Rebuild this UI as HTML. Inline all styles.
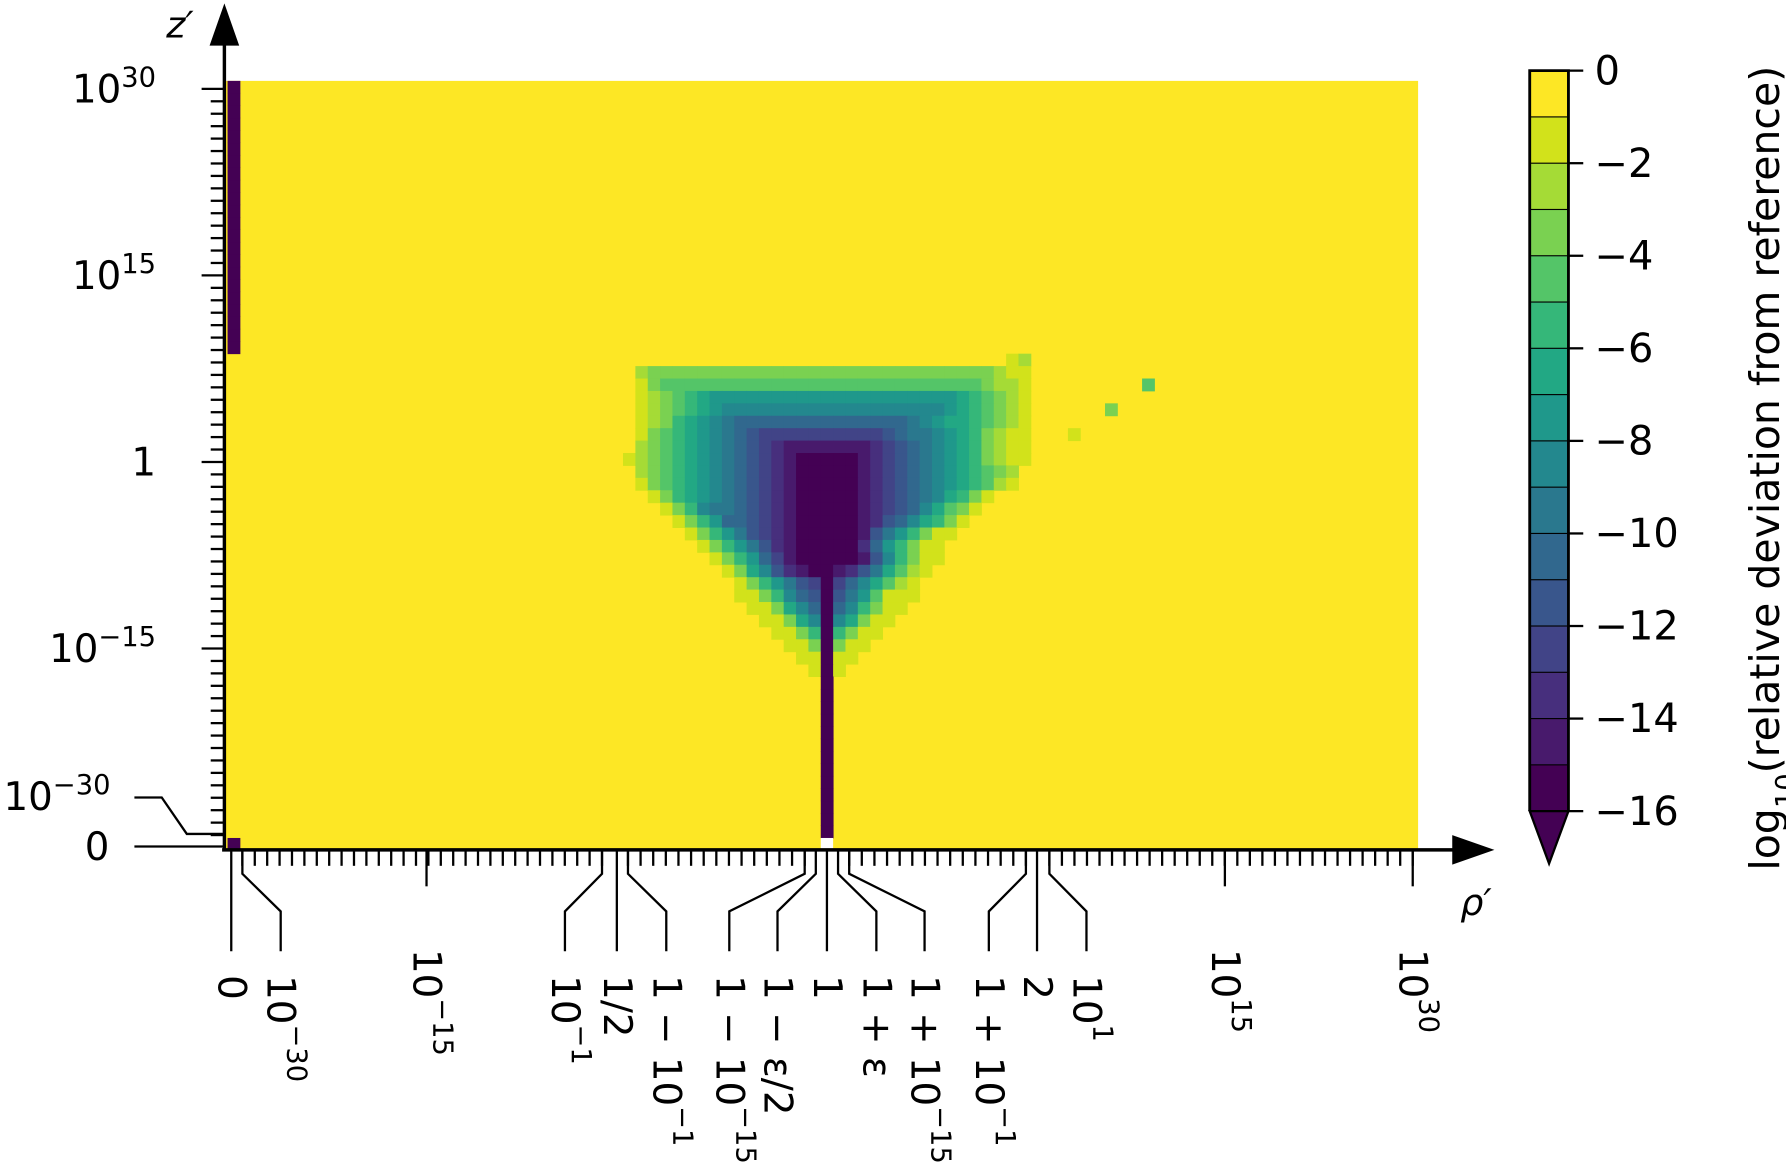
<!DOCTYPE html>
<html><head><meta charset="utf-8"><style>
html,body{margin:0;padding:0;background:#fff;}
svg{display:block;}
text{font-family:"DejaVu Sans","Liberation Sans",sans-serif;fill:#000;}
</style></head><body>
<svg id="chart" width="1786" height="1170" viewBox="0 0 1568 1027" preserveAspectRatio="none" xmlns="http://www.w3.org/2000/svg">
<defs><clipPath id="plotclip"><rect x="197" y="71" width="1048" height="675"/></clipPath></defs>
<rect x="197" y="71" width="1048" height="675" fill="#fde725"/>
<g id="cells" clip-path="url(#plotclip)"></g>
<g id="axes"></g>
<g id="cbar"></g>
</svg>
<script>
// ---- data ----
const levelColors = ["#fde725","#d2e21b","#a5db36","#7ad151","#54c568","#35b779","#22a884","#1f988b","#23888e","#2a788e","#31688e","#39568c","#414487","#472f7d","#481a6c","#440154","#440154"];
const funnelRows = [
"000000000000000000000000000000012",
"023333333333333333333333333333211",
"013444444444444444444444444443221",
"012345677777777777777777777654321",
"012345678888888888888888887654321",
"012356789aaaaaaaaaaaaaa9876654321",
"013456789abccccccccccba9987653211",
"023456789abcdeeeeeeedcba987653211",
"123456789abcdefffffedcba987653211",
"023456789abcdefffffedcba987654320",
"013456789abcdefffffedcba987654210",
"001356789abcdefffffedcba986531000",
"000135899abcdefffffedcba864310000",
"00001357aabcdefffffedba8653100000",
"0000013579bcdefffffeb975311000000",
"00000013579bdefffffda753110000000",
"00000001357acefffffeb853110000000",
"000000001368bdefgedb9642100000000",
"00000000013579bcgca86421000000000",
"00000000011358abgb974111000000000",
"000000000011368aga853110000000000",
"0000000000011368g8631100000000000",
"0000000000001135g5311000000000000",
"0000000000000113g3110000000000000",
"0000000000000011g1100000000000000",
"0000000000000001g1000000000000000"
];
const funnelTopRow = 39;
const funnelFirstCol = 32;
const stemCol = 48;
const stemRows = 13;
const stemLevel = 16;
const stripCol = 0;
const stripRowFrom = 40;
const stripRowTo = 61;
const stripLevel = 15;
const cornerLevel = 15;
const outlierCol = [74, 71, 68];
const outlierRow = [37, 35, 33];
const outlierLevel = [4, 3, 1];
const cbarTicks = [0,-2,-4,-6,-8,-10,-12,-14,-16];
const cbarLabels = ["0","\u22122","\u22124","\u22126","\u22128","\u221210","\u221212","\u221214","\u221216"];
// x-axis ticks (in column units)
const xTickPos   = [-0.2, 0.7, 15.6, 29.8, 31, 31.9, 46.2, 47.1, 48, 48.9, 49.8, 64.1, 65, 66, 80.2, 95.4];
const xLabelPos  = [-0.2, 3.8, 15.6, 26.8, 31, 35.0, 40.1, 44.0, 48, 52.0, 55.9, 61.1, 65, 69.0, 80.2, 95.4];
const xTickKind  = ["c","c","m","c","c","c","c","c","c","c","c","c","c","c","m","m"];
const xLabelBase = ["0","10","10","10","1/2","1 \u2212 10","1 \u2212 10","1 \u2212 \u03b5/2","1","1 + \u03b5","1 + 10","1 + 10","2","10","10","10"];
const xLabelSup  = ["","\u221230","\u221215","\u22121","","\u22121","\u221215","","","","\u221215","\u22121","","1","15","30"];
const yMajorLabelBase = ["10","10","1","10"];
const yMajorLabelSup = ["30","15","","\u221215"];
const yMajorIndex = [60,45,30,15];
const yMajorLabelRight = [137,137,137,137];

// ---- scales ----
const CW = 10.85, RH = 10.9;
function xCol(k){ return 726 + (k - 48) * CW; }
function yRow(j){ return 741 - j * RH; }
function yTick(n){ return 733 - n * (655/60); }
function cbarY(v){ return 62 + (-v) / 16 * 650; }

const NS = "http://www.w3.org/2000/svg";
function mk(tag, attrs, parent){ const e=document.createElementNS(NS,tag); for(const a in attrs) e.setAttribute(a, attrs[a]); parent.appendChild(e); return e; }
const cells = document.getElementById('cells');
function cell(k, j, lvl, name){
  const r = mk('rect', {x: xCol(k)-CW/2, y: yRow(j)-RH/2, width: CW+0.4, height: RH+0.4, fill: levelColors[lvl]}, cells);
  
  
}
funnelRows.forEach((s, r) => {
  for (let p = 0; p < s.length; p++) {
    const lvl = parseInt(s[p], 17);
    if (lvl > 0) cell(funnelFirstCol + p, funnelTopRow - r, lvl, 'heatmap-cell');
  }
});
for (let j = 1; j <= stemRows; j++) cell(stemCol, j, stemLevel, 'stem-cell');
for (let j = stripRowFrom; j <= stripRowTo; j++) cell(stripCol, j, stripLevel, 'axis-strip-cell');
cell(0, 0, cornerLevel, 'corner-cell');
{ const w = mk('rect', {x: xCol(stemCol)-CW/2, y: yRow(0)-RH/2, width: CW, height: RH, fill: '#ffffff'}, cells);
  
   }
outlierCol.forEach((k, i) => cell(k, outlierRow[i], outlierLevel[i], 'outlier-cell'));

// ---- axes ----
const ax = document.getElementById('axes');
function line(x1,y1,x2,y2,w,name){ const l=mk('line',{x1,y1,x2,y2,stroke:'#000','stroke-width':w},ax);   return l; }
function poly(pts,name){ const p=mk('polyline',{points:pts.map(q=>q.join(',')).join(' '),fill:'none',stroke:'#000','stroke-width':2},ax);   }
line(197,747,197,38,3,'y-axis-line');
{ const a=mk('polygon',{points:'184,40 210,40 197,3',fill:'#000'},ax);   }
line(195,746,1278,746,3,'x-axis-line');
{ const a=mk('polygon',{points:'1275,733 1275,759 1312,746',fill:'#000'},ax);   }
{ const t=mk('text',{x:146,y:33,'font-size':32,'font-style':'italic'},ax); t.textContent='z\u2032';   }
{ const t=mk('text',{x:1282,y:803,'font-size':32,'font-style':'italic'},ax); t.textContent='\u03c1\u2032';   }
// y ticks
for (let n = 0; n <= 60; n++) {
  const maj = yMajorIndex.includes(n);
  line(maj?177:185, yTick(n), 197, yTick(n), 2, maj?'y-major-tick':'y-minor-tick');
}
yMajorIndex.forEach((n,i)=>{
  const t=mk('text',{x:yMajorLabelRight[i],y:yTick(n)+12,'font-size':34,'text-anchor':'end'},ax);
  
  
  const a=mk('tspan',{},t); a.textContent=yMajorLabelBase[i];
  if (yMajorLabelSup[i]) { const s=mk('tspan',{dy:-14,'font-size':24},t); s.textContent=yMajorLabelSup[i]; }
});
poly([[118,700],[142,700],[164,732],[197,732]],'y-tick-connector');
line(118,743,197,743,2,'y-zero-tick');
{ const t=mk('text',{x:97,y:711,'font-size':34,'text-anchor':'end'},ax);  
  const a=mk('tspan',{},t); a.textContent='10'; const s=mk('tspan',{dy:-14,'font-size':24},t); s.textContent='\u221230'; }
{ const t=mk('text',{x:96,y:755,'font-size':34,'text-anchor':'end'},ax); t.textContent='0';   }
// x minor ticks
const segs = [[0.7,29.8,29],[31.9,46.2,14],[49.8,64.1,14],[66,95.4,29]];
segs.forEach(s=>{ for(let i=0;i<=s[2];i++){ const k=s[0]+(s[1]-s[0])*i/s[2]; line(xCol(k),746,xCol(k),760,2,'x-minor-tick'); } });
// x major ticks + labels
xTickPos.forEach((k,i)=>{
  const x=xCol(k), lx=xCol(xLabelPos[i]);
  let ty;
  if (xTickKind[i]==='m') { line(x,746,x,778,2,'x-major-tick'); ty=833; }
  else { if (Math.abs(x-lx)<1) line(x,746,x,835,2,'x-tick-connector'); else poly([[x,746],[x,767],[lx,800],[lx,835]],'x-tick-connector'); ty=856; }
  const t=mk('text',{x:lx,y:ty,'font-size':34,transform:`rotate(90 ${lx} ${ty})`,'dominant-baseline':'central'},ax);
  
  
  const a=mk('tspan',{},t); a.textContent=xLabelBase[i];
  if (xLabelSup[i]) { const s=mk('tspan',{'baseline-shift':'super','font-size':24},t); s.textContent=xLabelSup[i]; }
});

// ---- colorbar ----
const cb = document.getElementById('cbar');
for (let i=0;i<16;i++){
  const r=mk('rect',{x:1343,y:cbarY(-i),width:34,height:cbarY(-i-1)-cbarY(-i)+0.5,fill:levelColors[i],stroke:'#000','stroke-width':1},cb);
  
  
}
{ const p=mk('polygon',{points:`1343,${cbarY(-16)} 1377,${cbarY(-16)} 1360,758`,fill:levelColors[16],stroke:'#000','stroke-width':2},cb);   }
{ const o=mk('polyline',{points:`1343,${cbarY(-16)} 1343,62 1377,62 1377,${cbarY(-16)}`,fill:'none',stroke:'#000','stroke-width':2.5},cb);   }
cbarTicks.forEach((v,i)=>{
  const l=mk('line',{x1:1377,y1:cbarY(v),x2:1390,y2:cbarY(v),stroke:'#000','stroke-width':2},cb);
  
  
  const t=mk('text',{x:1400,y:cbarY(v)+12,'font-size':35},cb);
  t.textContent=cbarLabels[i];
  
  
});
{ const t=mk('text',{x:1562,y:411,'font-size':36,'text-anchor':'middle',transform:'rotate(-90 1562 411)'},cb);
  
  
  const a=mk('tspan',{},t); a.textContent='log';
  const s=mk('tspan',{'baseline-shift':'sub','font-size':24},t); s.textContent='10';
  const b=mk('tspan',{},t); b.textContent='(relative deviation from reference)'; }
</script>
</body></html>
